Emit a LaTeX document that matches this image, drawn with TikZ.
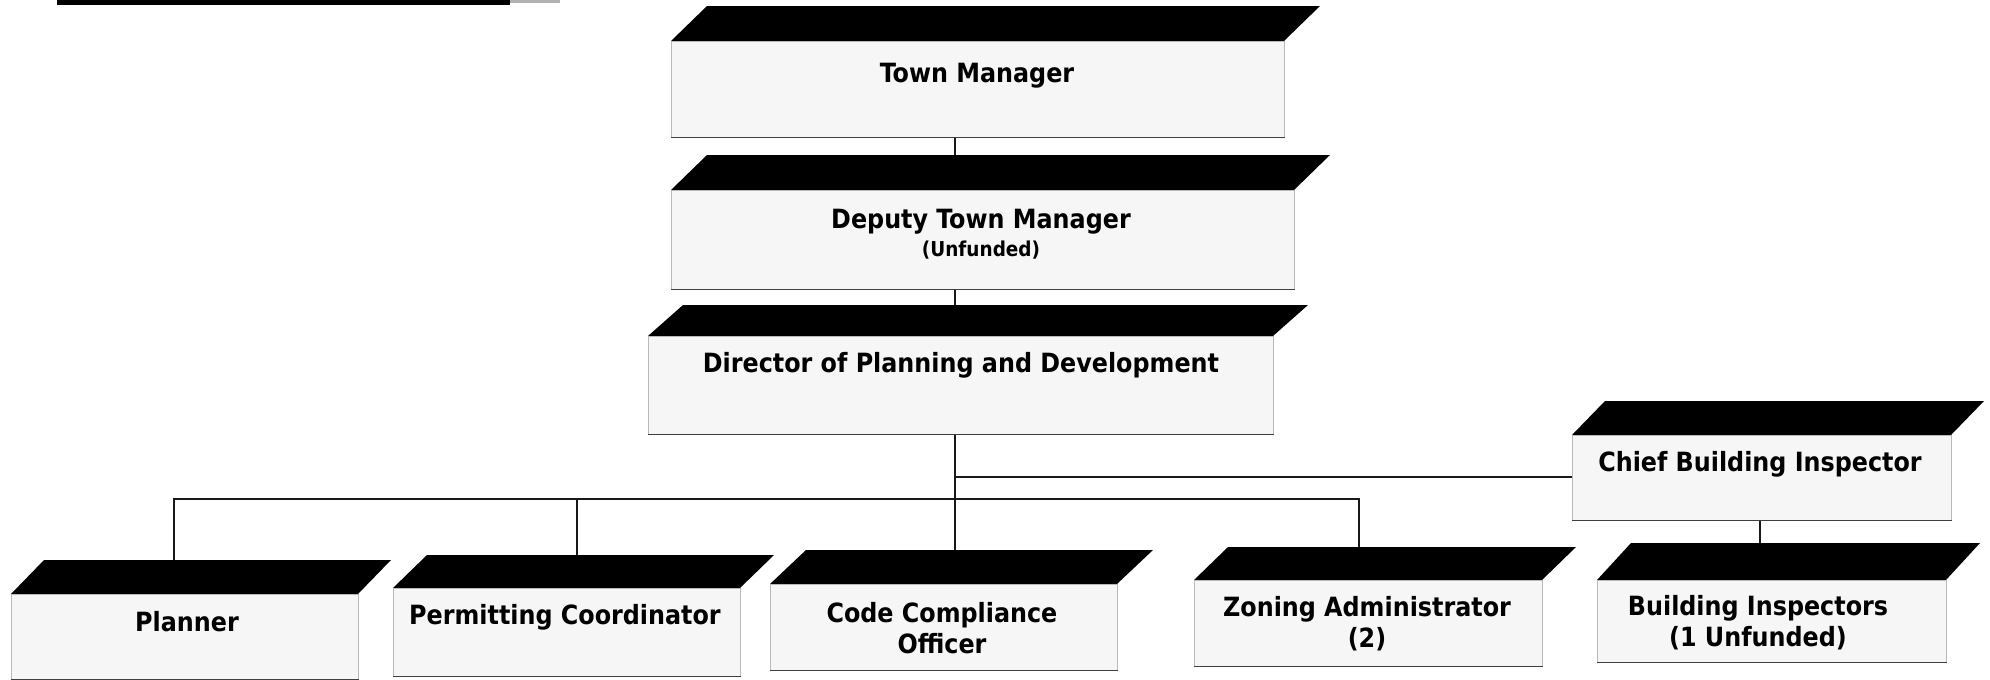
\documentclass[tikz,border=0pt]{standalone}
\usepackage{fontspec}
\newfontfamily\lblfont{DejaVu Sans Condensed}[BoldFont={DejaVu Sans Condensed Bold}]
\newcommand\orgbox[7]{%
  \fill[topface] (#2,#5) -- (#3,#5) -- (#3+#7,#4) -- (#2+#7,#4) -- cycle;
  \node[front, anchor=north west, minimum width={#3-#2}, minimum height={#6-#5}] (#1) at (#2,#5) {};
  \draw[bottomedge] (#1.south west) -- (#1.south east);
  \coordinate (#1-top) at (#2+#7,#4);
}
\begin{document}
\begin{tikzpicture}[x=1pt,y=-1pt,
  topface/.style={fill=black},
  front/.style={fill=gray!7, draw=gray!55, line width=0.8pt, inner sep=0pt},
  bottomedge/.style={draw=black!75, line width=1.3pt},
  lbl/.style={font=\lblfont\bfseries\fontsize{26.5}{31}\selectfont, inner sep=0pt, align=center},
  sub/.style={font=\lblfont\bfseries\fontsize{20.5}{24}\selectfont, inner sep=0pt},
  conn/.style={line width=2pt, draw=black!90}]
\useasboundingbox (0,0) rectangle (1990,680);
\fill[black] (57,0) rectangle (510,5);
\fill[gray!60] (510,0) rectangle (560,3);
% boxes: name, xL, xR, yTop, yBlackBottom, yFrontBottom, dx
\orgbox{tm}{671}{1284}{6}{41}{137}{36}
\orgbox{dtm}{671}{1294}{155}{190}{289}{36}
\orgbox{dir}{648}{1273}{305}{336}{434}{35}
\orgbox{pl}{11}{358}{560}{594}{679}{33}
\orgbox{pc}{393}{740}{555}{588}{676}{34}
\orgbox{cc}{770}{1117}{550}{584}{670}{36}
\orgbox{za}{1194}{1542}{547}{580}{666}{34}
\orgbox{cbi}{1572}{1951}{401}{435}{520}{33}
\orgbox{bi}{1597}{1946}{543}{580}{662}{34}
% labels
\node[lbl] (tm-t) at (977,76) {Town Manager};
\node[lbl] (dtm-t) at (981,222) {Deputy Town Manager};
\node[sub] (dtm-s) at (981,250) {(Unfunded)};
\node[lbl] (dir-t) at (961,365) {Director of Planning and Development};
\node[lbl] (pl-t) at (187,622) {Planner};
\node[lbl] (pc-t) at (565,617) {Permitting Coordinator};
\node[lbl] (cc-t) at (942,628) {Code Compliance\\Officer};
\node[lbl] (za-t) at (1367,624) {Zoning Administrator\\(2)};
\node[lbl] (cbi-t) at (1760,464) {Chief Building Inspector};
\node[lbl] (bi-t) at (1758,623) {Building Inspectors\\(1 Unfunded)};
% connectors
\coordinate (trunk) at (955,0);
\coordinate (jA) at (955,477);
\coordinate (jPL) at (174,499);
\coordinate (jPC) at (577,499);
\coordinate (jZA) at (1359,499);
\coordinate (jBI) at (1760,0);
\draw[conn] (trunk |- tm.south) -- (trunk |- dtm-top);
\draw[conn] (trunk |- dtm.south) -- (trunk |- dir-top);
\draw[conn] (trunk |- dir.south) -- (trunk |- cc-top);
\draw[conn] (jA) -- (jA -| cbi.west);
\draw[conn] (jPL |- pl-top) -- (jPL) -- (jZA) -- (jZA |- za-top);
\draw[conn] (jPC) -- (jPC |- pc-top);
\draw[conn] (jBI |- cbi.south) -- (jBI |- bi-top);
\end{tikzpicture}
\end{document}
